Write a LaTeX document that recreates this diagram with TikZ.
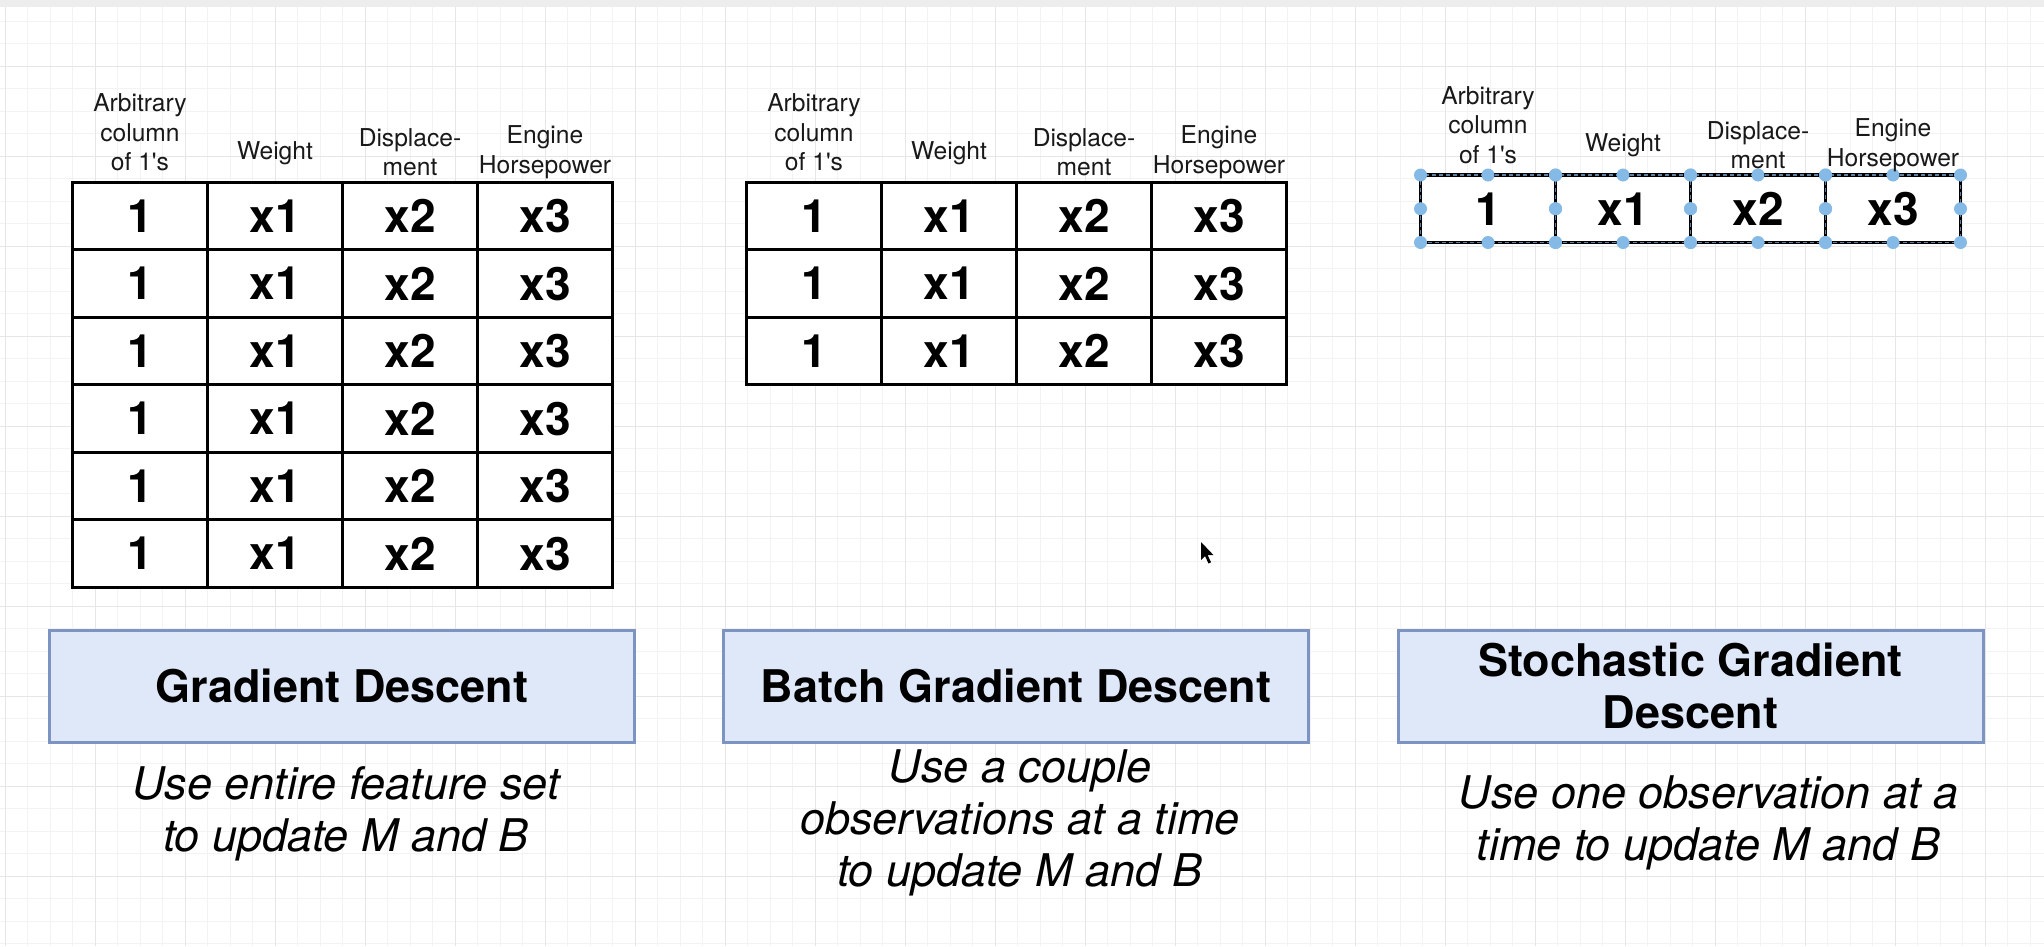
\documentclass[tikz,border=0pt]{standalone}
\usepackage{fontspec}
\setmainfont{TeX Gyre Heros}[Ligatures=TeXOff]
\usetikzlibrary{positioning}

\definecolor{gridminor}{HTML}{F3F3F3}
\definecolor{gridmajor}{HTML}{E6E6E6}
\definecolor{boxfill}{HTML}{DFE8F8}
\definecolor{boxedge}{HTML}{7D94C2}
\definecolor{handleblue}{HTML}{85BAE6}
\definecolor{selline}{HTML}{5F7FA3}

\begin{document}
\begin{tikzpicture}[x=1pt, y=-1pt,
    cell/.style={draw, fill=white, line width=3pt, minimum width=135pt, minimum height=67.5pt,
      inner sep=0pt, outer sep=0pt, font=\fontsize{46}{52}\selectfont\bfseries},
    selcell/.style={cell, line width=3.5pt, postaction={draw=selline, fill=none, line width=1.6pt, dash pattern=on 4pt off 3pt}},
    colhead/.style={align=center, inner sep=0pt, text=black!90, font=\fontsize{24.6}{29.5}\selectfont},
    method/.style={draw=boxedge, fill=boxfill, line width=3pt, minimum width=585pt, minimum height=112pt,
      inner sep=0pt, outer sep=0pt, align=center, font=\fontsize{45}{52}\selectfont\bfseries},
    note/.style={align=center, inner sep=0pt, font=\fontsize{45}{52}\selectfont\itshape}]

    \useasboundingbox (0,0) rectangle (2044,946);
    \fill[white] (0,0) rectangle (2044,946);
    \foreach \i in {0,...,90} \draw[gridminor, line width=1pt] ({5+22.5*\i},7) -- ({5+22.5*\i},946);
    \foreach \i in {0,...,41} \draw[gridminor, line width=1pt] (0,{21+22.5*\i}) -- (2044,{21+22.5*\i});
    \foreach \i in {0,...,22} \draw[gridmajor, line width=1pt] ({5+90*\i},7) -- ({5+90*\i},946);
    \foreach \i in {0,...,9} \draw[gridmajor, line width=1pt] (0,{66+90*\i}) -- (2044,{66+90*\i});
    \fill[black!7] (0,0) rectangle (2044,7);

    % the three feature tables
    \foreach \r in {1,...,6}
      \foreach \c/\v in {1/1,2/x1,3/x2,4/x3}
        \node[cell] (gd-\r-\c) at ({72.5+135*(\c-0.5)},{182.3+67.5*(\r-0.5)}) {\v};
    \foreach \r in {1,...,3}
      \foreach \c/\v in {1/1,2/x1,3/x2,4/x3}
        \node[cell] (bgd-\r-\c) at ({746.5+135*(\c-0.5)},{182.3+67.5*(\r-0.5)}) {\v};
    \foreach \c/\v in {1/1,2/x1,3/x2,4/x3}
      \node[selcell] (sgd-1-\c) at ({1420.5+135*(\c-0.5)},{175+33.75}) {\v};
    \foreach \c in {1,...,4}
      \foreach \a in {north west,north,north east,east,south east,south,south west,west}
        \fill[handleblue] (sgd-1-\c.\a) circle[radius=6.5pt];

    \foreach \p in {gd,bgd,sgd} {
      \node[colhead] (\p-h1) at ([yshift=50pt]\p-1-1.north) {Arbitrary\\column\\of 1's};
      \node[colhead] (\p-h2) at ([yshift=29.5pt]\p-1-2.north) {Weight};
      \node[colhead] (\p-h3) at ([yshift=30pt]\p-1-3.north) {Displace-\\ment};
      \node[colhead] (\p-h4) at ([yshift=30pt]\p-1-4.north) {Engine\\Horsepower};
    }

    % methods
    \node[method] (gd) at (342,686) {Gradient Descent};
    \node[method] (bgd) at (1016,686) {Batch Gradient Descent};
    \node[method] (sgd) at (1690.5,686) {Stochastic Gradient\\Descent};

    \node[note, below=24.5pt of gd, xshift=4pt] (gd-note) {Use entire feature set\\to update M and B};
    \node[note, below=7.5pt of bgd, xshift=4pt] (bgd-note) {Use a couple\\observations at a time\\to update M and B};
    \node[note, below=33.5pt of sgd, xshift=18pt] (sgd-note) {Use one observation at a\\time to update M and B};

    \fill (1201,542) -- ++(0,18) -- ++(4,-4) -- ++(3.5,7.5) -- ++(2.5,-1.2) -- ++(-3.4,-7.3) -- ++(5.8,0) -- cycle;
\end{tikzpicture}
\end{document}
